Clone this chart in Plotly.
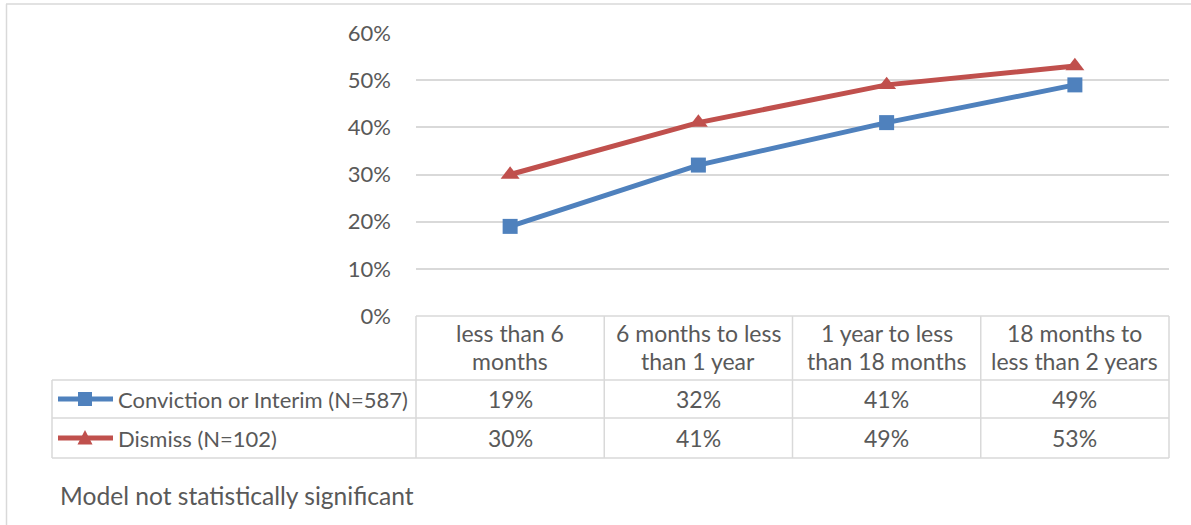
import plotly.graph_objects as go

# ---- data ----
categories = ["less than 6 months", "6 months to less than 1 year",
              "1 year to less than 18 months", "18 months to less than 2 years"]
header_lines = [["less than 6", "months"], ["6 months to less", "than 1 year"],
                ["1 year to less", "than 18 months"], ["18 months to", "less than 2 years"]]
conviction = [19, 32, 41, 49]
dismiss = [30, 41, 49, 53]
series_names = ["Conviction or Interim (N=587)", "Dismiss (N=102)"]
y_ticks = [0, 10, 20, 30, 40, 50, 60]
footnote = "Model not statistically significant"

# ---- styling ----
W, H = 1191, 525
BLUE = "#4F81BD"
RED = "#C0504D"
GRID = "#D9D9D9"
TEXT = "#595959"
FONT = "Lato"
FS_CELL = 23
FS_NAME = 22
FS_TICK = 22
FS_NOTE = 24.6

def px(x):
    return x / W

def py(y):
    return 1 - y / H

PLOT_L, PLOT_R = 416, 1169
PLOT_T, PLOT_B = 33, 316
ROW_HDR_B, ROW1_B, ROW2_B = 380, 418, 458
TABLE_L = 52

idx = list(range(len(categories)))

fig = go.Figure()
fig.add_trace(go.Scatter(
    x=idx, y=[v / 100 for v in conviction], mode="lines+markers",
    line=dict(color=BLUE, width=5),
    marker=dict(symbol="square", size=15, color=BLUE),
    name=series_names[0], showlegend=False, hoverinfo="skip"))
fig.add_trace(go.Scatter(
    x=idx, y=[v / 100 for v in dismiss], mode="lines+markers",
    line=dict(color=RED, width=5),
    marker=dict(symbol="triangle-up", size=16.5, color=RED),
    name=series_names[1], showlegend=False, hoverinfo="skip"))

shapes = []
def hline(x0, x1, y, color=GRID, w=1.5):
    shapes.append(dict(type="line", xref="paper", yref="paper",
                       x0=px(x0), x1=px(x1), y0=py(y), y1=py(y),
                       line=dict(color=color, width=w)))
def vline(x, y0, y1, color=GRID, w=1.5):
    shapes.append(dict(type="line", xref="paper", yref="paper",
                       x0=px(x), x1=px(x), y0=py(y0), y1=py(y1),
                       line=dict(color=color, width=w)))

# outer chart border
hline(6, W + 5, 4)
vline(6.5, 4, H + 5)

# data table grid
hline(PLOT_L, PLOT_R, PLOT_B)
hline(TABLE_L, PLOT_R, ROW_HDR_B)
hline(TABLE_L, PLOT_R, ROW1_B)
hline(TABLE_L, PLOT_R, ROW2_B)
vline(TABLE_L, ROW_HDR_B, ROW2_B)
col_w = (PLOT_R - PLOT_L) / len(categories)
for i in range(len(categories) + 1):
    vline(PLOT_L + i * col_w, PLOT_B, ROW2_B)

# legend keys
row_c = [(ROW_HDR_B + ROW1_B) / 2, (ROW1_B + ROW2_B) / 2]
key_x0, key_x1, key_c = 58, 113, 85
for color, yc in [(BLUE, row_c[0]), (RED, row_c[1])]:
    shapes.append(dict(type="line", xref="paper", yref="paper",
                       x0=px(key_x0), x1=px(key_x1), y0=py(yc), y1=py(yc),
                       line=dict(color=color, width=5)))
s = 7
shapes.append(dict(type="rect", xref="paper", yref="paper",
                   x0=px(key_c - s), x1=px(key_c + s), y0=py(row_c[0] - s), y1=py(row_c[0] + s),
                   fillcolor=BLUE, line=dict(width=0)))
t = 7.5
yc = row_c[1]
path = "M {} {} L {} {} L {} {} Z".format(
    px(key_c - t), py(yc + 6.5), px(key_c + t), py(yc + 6.5), px(key_c), py(yc - 8))
shapes.append(dict(type="path", xref="paper", yref="paper", path=path,
                   fillcolor=RED, line=dict(width=0)))

annotations = []
def ann(text, x, y, size, xref="paper", xanchor="center"):
    annotations.append(dict(text=text, x=x, y=py(y), xref=xref, yref="paper",
                            xanchor=xanchor, yanchor="middle", showarrow=False,
                            font=dict(family=FONT, size=size, color=TEXT)))

hdr_y = [333, 361]
for i, lines in enumerate(header_lines):
    for j, ln in enumerate(lines):
        ann(ln, i, hdr_y[j], FS_CELL, xref="x")
for i in idx:
    ann(f"{conviction[i]}%", i, row_c[0], FS_CELL, xref="x")
    ann(f"{dismiss[i]}%", i, row_c[1], FS_CELL, xref="x")
ann(series_names[0], px(116), row_c[0], FS_NAME, xanchor="left")
ann(series_names[1], px(116), row_c[1], FS_NAME, xanchor="left")
ann(footnote, px(58), 495, FS_NOTE, xanchor="left")

fig.update_layout(
    width=W, height=H, autosize=False,
    margin=dict(l=0, r=0, t=0, b=0, autoexpand=False),
    paper_bgcolor="white", plot_bgcolor="white",
    xaxis=dict(domain=[px(PLOT_L), px(PLOT_R)], range=[-0.5, len(categories) - 0.5],
               showgrid=False, zeroline=False, showticklabels=False, showline=False,
               fixedrange=True),
    yaxis=dict(domain=[py(PLOT_B), py(PLOT_T)], range=[0, 0.6],
               tickvals=[v / 100 for v in y_ticks], ticktext=[f"{v}%" for v in y_ticks],
               showgrid=True, gridcolor=GRID, gridwidth=1.5, zeroline=False,
               showline=False, ticks="", ticklabelstandoff=24, automargin=False,
               tickfont=dict(family=FONT, size=FS_TICK, color=TEXT), fixedrange=True),
    shapes=shapes, annotations=annotations,
    font=dict(family=FONT, size=FS_CELL, color=TEXT),
)

fig.write_html("out.html", config={"displayModeBar": False},
               post_script="document.body.style.margin='0px';document.body.style.overflow='hidden';")
